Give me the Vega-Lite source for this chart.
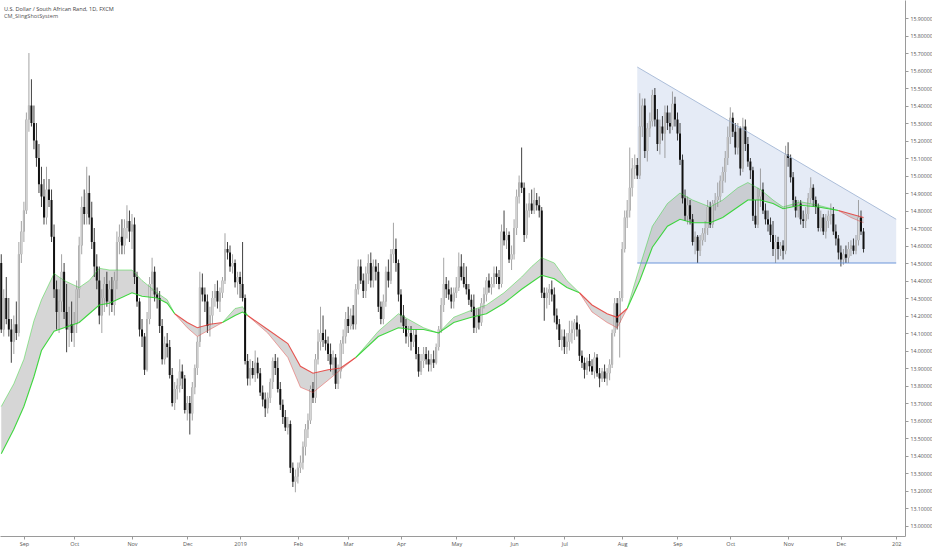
{
"$schema":"https://vega.github.io/schema/vega-lite/v6.json",
"width":905,"height":536,
"autosize":{"type":"none"},
"padding":{"left":0,"top":0,"right":27,"bottom":14},
"background":"white",
"title":{"text":"U.S. Dollar / South African Rand, 1D, FXCM","subtitle":"CM_SlingShotSystem","anchor":"start","frame":"group","orient":"top","offset":-20,"dx":4,"fontSize":5.6,"subtitleFontSize":5.6,"fontWeight":"normal","color":"#444444","subtitleColor":"#555555","subtitlePadding":2,"font":"Open Sans","subtitleFont":"Open Sans"},
"config":{"view":{"stroke":null},"font":"Open Sans","axis":{"labelOverlap":false,"labelFlush":false}},
"resolve":{"axis":{"y":"independent"}},
"datasets":{
"bars":[
{"d":"2018-08-21","o":14.5,"h":14.55,"l":14.1,"c":14.12},
{"d":"2018-08-22","o":14.12,"h":14.35,"l":14.08,"c":14.3},
{"d":"2018-08-23","o":14.3,"h":14.42,"l":14.15,"c":14.18},
{"d":"2018-08-24","o":14.18,"h":14.3,"l":14.08,"c":14.12},
{"d":"2018-08-27","o":14.12,"h":14.18,"l":13.93,"c":14.05},
{"d":"2018-08-28","o":14.05,"h":14.2,"l":13.98,"c":14.15},
{"d":"2018-08-29","o":14.15,"h":14.28,"l":14.06,"c":14.1},
{"d":"2018-08-30","o":14.1,"h":14.62,"l":14.08,"c":14.55},
{"d":"2018-08-31","o":14.55,"h":14.74,"l":14.5,"c":14.68},
{"d":"2018-09-03","o":14.68,"h":14.85,"l":14.62,"c":14.8},
{"d":"2018-09-04","o":14.8,"h":15.36,"l":14.78,"c":15.32},
{"d":"2018-09-05","o":15.32,"h":15.7,"l":15.25,"c":15.4},
{"d":"2018-09-06","o":15.4,"h":15.55,"l":15.28,"c":15.3},
{"d":"2018-09-07","o":15.3,"h":15.4,"l":15.15,"c":15.2},
{"d":"2018-09-10","o":15.2,"h":15.3,"l":15.05,"c":15.1},
{"d":"2018-09-11","o":15.1,"h":15.18,"l":14.9,"c":14.95},
{"d":"2018-09-12","o":14.95,"h":15.05,"l":14.82,"c":14.88},
{"d":"2018-09-13","o":14.88,"h":14.98,"l":14.72,"c":14.76},
{"d":"2018-09-14","o":14.76,"h":15.05,"l":14.72,"c":14.92},
{"d":"2018-09-17","o":14.92,"h":14.98,"l":14.82,"c":14.86},
{"d":"2018-09-18","o":14.86,"h":14.92,"l":14.62,"c":14.65},
{"d":"2018-09-19","o":14.65,"h":14.72,"l":14.3,"c":14.35},
{"d":"2018-09-20","o":14.35,"h":14.4,"l":14.12,"c":14.22},
{"d":"2018-09-21","o":14.22,"h":14.35,"l":14.1,"c":14.28},
{"d":"2018-09-24","o":14.28,"h":14.55,"l":14.22,"c":14.45},
{"d":"2018-09-25","o":14.45,"h":14.5,"l":14.18,"c":14.22},
{"d":"2018-09-26","o":14.22,"h":14.38,"l":13.99,"c":14.12},
{"d":"2018-09-27","o":14.12,"h":14.25,"l":14.02,"c":14.15},
{"d":"2018-09-28","o":14.15,"h":14.28,"l":14.05,"c":14.1},
{"d":"2018-10-01","o":14.1,"h":14.22,"l":14.02,"c":14.15},
{"d":"2018-10-02","o":14.15,"h":14.4,"l":14.1,"c":14.35},
{"d":"2018-10-03","o":14.35,"h":14.65,"l":14.3,"c":14.6},
{"d":"2018-10-04","o":14.6,"h":14.88,"l":14.55,"c":14.82},
{"d":"2018-10-05","o":14.82,"h":14.92,"l":14.72,"c":14.78},
{"d":"2018-10-08","o":14.78,"h":15.05,"l":14.72,"c":14.9},
{"d":"2018-10-09","o":14.9,"h":15.0,"l":14.72,"c":14.76},
{"d":"2018-10-10","o":14.76,"h":14.85,"l":14.58,"c":14.62},
{"d":"2018-10-11","o":14.62,"h":14.7,"l":14.42,"c":14.48},
{"d":"2018-10-12","o":14.48,"h":14.55,"l":14.35,"c":14.4},
{"d":"2018-10-15","o":14.4,"h":14.48,"l":14.15,"c":14.2},
{"d":"2018-10-16","o":14.2,"h":14.35,"l":14.1,"c":14.3},
{"d":"2018-10-17","o":14.3,"h":14.42,"l":14.22,"c":14.38},
{"d":"2018-10-18","o":14.38,"h":14.45,"l":14.25,"c":14.28},
{"d":"2018-10-19","o":14.28,"h":14.4,"l":14.2,"c":14.35},
{"d":"2018-10-22","o":14.35,"h":14.42,"l":14.22,"c":14.26},
{"d":"2018-10-23","o":14.26,"h":14.45,"l":14.2,"c":14.4},
{"d":"2018-10-24","o":14.4,"h":14.68,"l":14.35,"c":14.62},
{"d":"2018-10-25","o":14.62,"h":14.72,"l":14.55,"c":14.65},
{"d":"2018-10-26","o":14.65,"h":14.75,"l":14.55,"c":14.6},
{"d":"2018-10-29","o":14.6,"h":14.75,"l":14.55,"c":14.7},
{"d":"2018-10-30","o":14.7,"h":14.83,"l":14.64,"c":14.74},
{"d":"2018-10-31","o":14.74,"h":14.8,"l":14.62,"c":14.68},
{"d":"2018-11-01","o":14.68,"h":14.78,"l":14.58,"c":14.72},
{"d":"2018-11-02","o":14.72,"h":14.76,"l":14.38,"c":14.42},
{"d":"2018-11-05","o":14.42,"h":14.45,"l":14.25,"c":14.28},
{"d":"2018-11-06","o":14.28,"h":14.3,"l":14.08,"c":14.12},
{"d":"2018-11-07","o":14.12,"h":14.18,"l":14.02,"c":14.08},
{"d":"2018-11-08","o":14.08,"h":14.1,"l":13.86,"c":13.89},
{"d":"2018-11-09","o":13.89,"h":14.22,"l":13.88,"c":14.18},
{"d":"2018-11-12","o":14.18,"h":14.42,"l":14.15,"c":14.38},
{"d":"2018-11-13","o":14.38,"h":14.53,"l":14.34,"c":14.45},
{"d":"2018-11-14","o":14.45,"h":14.48,"l":14.28,"c":14.32},
{"d":"2018-11-15","o":14.32,"h":14.36,"l":14.24,"c":14.3},
{"d":"2018-11-16","o":14.3,"h":14.34,"l":14.1,"c":14.14},
{"d":"2018-11-19","o":14.14,"h":14.18,"l":13.92,"c":13.95},
{"d":"2018-11-20","o":13.95,"h":14.08,"l":13.92,"c":14.04},
{"d":"2018-11-21","o":14.04,"h":14.1,"l":13.96,"c":14.02},
{"d":"2018-11-22","o":14.02,"h":14.06,"l":13.84,"c":13.86},
{"d":"2018-11-23","o":13.86,"h":13.9,"l":13.68,"c":13.7},
{"d":"2018-11-26","o":13.7,"h":13.82,"l":13.66,"c":13.78},
{"d":"2018-11-27","o":13.78,"h":13.84,"l":13.72,"c":13.8},
{"d":"2018-11-28","o":13.8,"h":13.95,"l":13.76,"c":13.88},
{"d":"2018-11-29","o":13.88,"h":13.92,"l":13.78,"c":13.84},
{"d":"2018-11-30","o":13.84,"h":13.86,"l":13.64,"c":13.66},
{"d":"2018-12-03","o":13.66,"h":13.74,"l":13.6,"c":13.7},
{"d":"2018-12-04","o":13.7,"h":13.74,"l":13.52,"c":13.64},
{"d":"2018-12-05","o":13.64,"h":13.82,"l":13.6,"c":13.79},
{"d":"2018-12-06","o":13.79,"h":13.92,"l":13.75,"c":13.9},
{"d":"2018-12-07","o":13.9,"h":14.08,"l":13.86,"c":14.05},
{"d":"2018-12-10","o":14.05,"h":14.45,"l":14.02,"c":14.36},
{"d":"2018-12-11","o":14.36,"h":14.44,"l":14.28,"c":14.32},
{"d":"2018-12-12","o":14.32,"h":14.36,"l":14.22,"c":14.28},
{"d":"2018-12-13","o":14.28,"h":14.32,"l":14.1,"c":14.14},
{"d":"2018-12-14","o":14.14,"h":14.25,"l":14.08,"c":14.2},
{"d":"2018-12-17","o":14.2,"h":14.34,"l":14.15,"c":14.3},
{"d":"2018-12-18","o":14.3,"h":14.38,"l":14.25,"c":14.34},
{"d":"2018-12-19","o":14.34,"h":14.4,"l":14.24,"c":14.28},
{"d":"2018-12-20","o":14.28,"h":14.36,"l":14.22,"c":14.33},
{"d":"2018-12-21","o":14.33,"h":14.42,"l":14.3,"c":14.4},
{"d":"2018-12-24","o":14.4,"h":14.67,"l":14.38,"c":14.58},
{"d":"2018-12-25","o":14.58,"h":14.62,"l":14.52,"c":14.56},
{"d":"2018-12-26","o":14.56,"h":14.6,"l":14.45,"c":14.48},
{"d":"2018-12-27","o":14.48,"h":14.55,"l":14.44,"c":14.5},
{"d":"2018-12-28","o":14.5,"h":14.52,"l":14.36,"c":14.39},
{"d":"2018-12-31","o":14.39,"h":14.45,"l":14.32,"c":14.42},
{"d":"2019-01-01","o":14.42,"h":14.45,"l":14.3,"c":14.38},
{"d":"2019-01-02","o":14.38,"h":14.62,"l":14.28,"c":14.3},
{"d":"2019-01-03","o":14.3,"h":14.32,"l":13.92,"c":13.94},
{"d":"2019-01-04","o":13.94,"h":13.98,"l":13.8,"c":13.84},
{"d":"2019-01-07","o":13.84,"h":13.95,"l":13.8,"c":13.9},
{"d":"2019-01-08","o":13.9,"h":13.94,"l":13.84,"c":13.86},
{"d":"2019-01-09","o":13.86,"h":14.0,"l":13.82,"c":13.93},
{"d":"2019-01-10","o":13.93,"h":13.96,"l":13.84,"c":13.87},
{"d":"2019-01-11","o":13.87,"h":13.9,"l":13.74,"c":13.76},
{"d":"2019-01-14","o":13.76,"h":13.8,"l":13.68,"c":13.72},
{"d":"2019-01-15","o":13.72,"h":13.76,"l":13.62,"c":13.67},
{"d":"2019-01-16","o":13.67,"h":13.76,"l":13.64,"c":13.73},
{"d":"2019-01-17","o":13.73,"h":13.84,"l":13.7,"c":13.82},
{"d":"2019-01-18","o":13.82,"h":13.96,"l":13.78,"c":13.94},
{"d":"2019-01-21","o":13.94,"h":13.98,"l":13.86,"c":13.9},
{"d":"2019-01-22","o":13.9,"h":13.96,"l":13.76,"c":13.78},
{"d":"2019-01-23","o":13.78,"h":13.82,"l":13.66,"c":13.69},
{"d":"2019-01-24","o":13.69,"h":13.72,"l":13.58,"c":13.62},
{"d":"2019-01-25","o":13.62,"h":13.66,"l":13.54,"c":13.56},
{"d":"2019-01-28","o":13.56,"h":13.62,"l":13.52,"c":13.58},
{"d":"2019-01-29","o":13.58,"h":13.6,"l":13.3,"c":13.33},
{"d":"2019-01-30","o":13.33,"h":13.36,"l":13.22,"c":13.25},
{"d":"2019-01-31","o":13.25,"h":13.32,"l":13.19,"c":13.28},
{"d":"2019-02-01","o":13.28,"h":13.36,"l":13.24,"c":13.33},
{"d":"2019-02-04","o":13.33,"h":13.4,"l":13.3,"c":13.36},
{"d":"2019-02-05","o":13.36,"h":13.48,"l":13.32,"c":13.45},
{"d":"2019-02-06","o":13.45,"h":13.58,"l":13.4,"c":13.55},
{"d":"2019-02-07","o":13.55,"h":13.64,"l":13.5,"c":13.6},
{"d":"2019-02-08","o":13.6,"h":13.8,"l":13.58,"c":13.78},
{"d":"2019-02-11","o":13.78,"h":13.82,"l":13.7,"c":13.73},
{"d":"2019-02-12","o":13.73,"h":13.98,"l":13.7,"c":13.95},
{"d":"2019-02-13","o":13.95,"h":14.12,"l":13.92,"c":14.05},
{"d":"2019-02-14","o":14.05,"h":14.25,"l":14.0,"c":14.1},
{"d":"2019-02-15","o":14.1,"h":14.2,"l":14.02,"c":14.06},
{"d":"2019-02-18","o":14.06,"h":14.12,"l":14.0,"c":14.04},
{"d":"2019-02-19","o":14.04,"h":14.08,"l":13.94,"c":13.98},
{"d":"2019-02-20","o":13.98,"h":14.04,"l":13.88,"c":13.92},
{"d":"2019-02-21","o":13.92,"h":14.0,"l":13.86,"c":13.96},
{"d":"2019-02-22","o":13.96,"h":13.98,"l":13.78,"c":13.81},
{"d":"2019-02-25","o":13.81,"h":13.92,"l":13.78,"c":13.88},
{"d":"2019-02-26","o":13.88,"h":14.06,"l":13.84,"c":14.04},
{"d":"2019-02-27","o":14.04,"h":14.12,"l":13.98,"c":14.08},
{"d":"2019-02-28","o":14.08,"h":14.22,"l":14.04,"c":14.18},
{"d":"2019-03-01","o":14.18,"h":14.25,"l":14.1,"c":14.14},
{"d":"2019-03-04","o":14.14,"h":14.24,"l":14.12,"c":14.2},
{"d":"2019-03-05","o":14.2,"h":14.26,"l":14.12,"c":14.15},
{"d":"2019-03-06","o":14.15,"h":14.38,"l":14.12,"c":14.35},
{"d":"2019-03-07","o":14.35,"h":14.52,"l":14.32,"c":14.48},
{"d":"2019-03-08","o":14.48,"h":14.52,"l":14.38,"c":14.4},
{"d":"2019-03-11","o":14.4,"h":14.44,"l":14.3,"c":14.34},
{"d":"2019-03-12","o":14.34,"h":14.48,"l":14.3,"c":14.44},
{"d":"2019-03-13","o":14.44,"h":14.55,"l":14.38,"c":14.5},
{"d":"2019-03-14","o":14.5,"h":14.56,"l":14.36,"c":14.4},
{"d":"2019-03-15","o":14.4,"h":14.52,"l":14.36,"c":14.48},
{"d":"2019-03-18","o":14.48,"h":14.52,"l":14.4,"c":14.45},
{"d":"2019-03-19","o":14.45,"h":14.5,"l":14.22,"c":14.25},
{"d":"2019-03-20","o":14.25,"h":14.28,"l":14.15,"c":14.18},
{"d":"2019-03-21","o":14.18,"h":14.32,"l":14.15,"c":14.28},
{"d":"2019-03-22","o":14.28,"h":14.48,"l":14.25,"c":14.45},
{"d":"2019-03-25","o":14.45,"h":14.52,"l":14.36,"c":14.4},
{"d":"2019-03-26","o":14.4,"h":14.58,"l":14.38,"c":14.55},
{"d":"2019-03-27","o":14.55,"h":14.73,"l":14.5,"c":14.58},
{"d":"2019-03-28","o":14.58,"h":14.64,"l":14.45,"c":14.5},
{"d":"2019-03-29","o":14.5,"h":14.52,"l":14.28,"c":14.32},
{"d":"2019-04-01","o":14.32,"h":14.35,"l":14.16,"c":14.2},
{"d":"2019-04-02","o":14.2,"h":14.26,"l":14.1,"c":14.14},
{"d":"2019-04-03","o":14.14,"h":14.18,"l":14.04,"c":14.08},
{"d":"2019-04-04","o":14.08,"h":14.14,"l":14.02,"c":14.1},
{"d":"2019-04-05","o":14.1,"h":14.14,"l":14.0,"c":14.05},
{"d":"2019-04-08","o":14.05,"h":14.12,"l":14.02,"c":14.09},
{"d":"2019-04-09","o":14.09,"h":14.12,"l":13.95,"c":13.98},
{"d":"2019-04-10","o":13.98,"h":14.02,"l":13.85,"c":13.88},
{"d":"2019-04-11","o":13.88,"h":13.98,"l":13.86,"c":13.94},
{"d":"2019-04-12","o":13.94,"h":14.02,"l":13.9,"c":13.98},
{"d":"2019-04-15","o":13.98,"h":14.02,"l":13.92,"c":13.95},
{"d":"2019-04-16","o":13.95,"h":14.0,"l":13.88,"c":13.92},
{"d":"2019-04-17","o":13.92,"h":13.98,"l":13.88,"c":13.95},
{"d":"2019-04-18","o":13.95,"h":14.0,"l":13.9,"c":13.93},
{"d":"2019-04-19","o":13.93,"h":14.04,"l":13.92,"c":14.02},
{"d":"2019-04-22","o":14.02,"h":14.14,"l":14.0,"c":14.12},
{"d":"2019-04-23","o":14.12,"h":14.3,"l":14.1,"c":14.26},
{"d":"2019-04-24","o":14.26,"h":14.53,"l":14.22,"c":14.38},
{"d":"2019-04-25","o":14.38,"h":14.42,"l":14.3,"c":14.35},
{"d":"2019-04-26","o":14.35,"h":14.4,"l":14.29,"c":14.32},
{"d":"2019-04-29","o":14.32,"h":14.36,"l":14.24,"c":14.28},
{"d":"2019-04-30","o":14.28,"h":14.36,"l":14.24,"c":14.33},
{"d":"2019-05-01","o":14.33,"h":14.42,"l":14.3,"c":14.36},
{"d":"2019-05-02","o":14.36,"h":14.56,"l":14.34,"c":14.48},
{"d":"2019-05-03","o":14.48,"h":14.55,"l":14.4,"c":14.42},
{"d":"2019-05-06","o":14.42,"h":14.5,"l":14.36,"c":14.38},
{"d":"2019-05-07","o":14.38,"h":14.48,"l":14.32,"c":14.35},
{"d":"2019-05-08","o":14.35,"h":14.38,"l":14.26,"c":14.29},
{"d":"2019-05-09","o":14.29,"h":14.32,"l":14.22,"c":14.25},
{"d":"2019-05-10","o":14.25,"h":14.32,"l":14.1,"c":14.13},
{"d":"2019-05-13","o":14.13,"h":14.24,"l":14.1,"c":14.2},
{"d":"2019-05-14","o":14.2,"h":14.24,"l":14.12,"c":14.16},
{"d":"2019-05-15","o":14.16,"h":14.3,"l":14.14,"c":14.27},
{"d":"2019-05-16","o":14.27,"h":14.36,"l":14.24,"c":14.32},
{"d":"2019-05-17","o":14.32,"h":14.42,"l":14.28,"c":14.4},
{"d":"2019-05-20","o":14.4,"h":14.44,"l":14.33,"c":14.36},
{"d":"2019-05-21","o":14.36,"h":14.42,"l":14.32,"c":14.38},
{"d":"2019-05-22","o":14.38,"h":14.48,"l":14.36,"c":14.44},
{"d":"2019-05-23","o":14.44,"h":14.48,"l":14.38,"c":14.42},
{"d":"2019-05-24","o":14.42,"h":14.46,"l":14.35,"c":14.38},
{"d":"2019-05-27","o":14.38,"h":14.72,"l":14.36,"c":14.68},
{"d":"2019-05-28","o":14.68,"h":14.8,"l":14.6,"c":14.63},
{"d":"2019-05-29","o":14.63,"h":14.7,"l":14.58,"c":14.66},
{"d":"2019-05-30","o":14.66,"h":14.68,"l":14.5,"c":14.52},
{"d":"2019-05-31","o":14.52,"h":14.6,"l":14.46,"c":14.55},
{"d":"2019-06-03","o":14.55,"h":14.75,"l":14.52,"c":14.7},
{"d":"2019-06-04","o":14.7,"h":14.92,"l":14.66,"c":14.88},
{"d":"2019-06-05","o":14.88,"h":15.0,"l":14.84,"c":14.96},
{"d":"2019-06-06","o":14.96,"h":15.16,"l":14.9,"c":14.93},
{"d":"2019-06-07","o":14.93,"h":14.96,"l":14.62,"c":14.66},
{"d":"2019-06-10","o":14.66,"h":14.84,"l":14.64,"c":14.8},
{"d":"2019-06-11","o":14.8,"h":14.9,"l":14.76,"c":14.84},
{"d":"2019-06-12","o":14.84,"h":14.92,"l":14.78,"c":14.8},
{"d":"2019-06-13","o":14.8,"h":14.93,"l":14.78,"c":14.86},
{"d":"2019-06-14","o":14.86,"h":14.9,"l":14.8,"c":14.83},
{"d":"2019-06-17","o":14.83,"h":14.88,"l":14.76,"c":14.8},
{"d":"2019-06-18","o":14.8,"h":14.82,"l":14.3,"c":14.33},
{"d":"2019-06-19","o":14.33,"h":14.36,"l":14.17,"c":14.3},
{"d":"2019-06-20","o":14.3,"h":14.36,"l":14.24,"c":14.33},
{"d":"2019-06-21","o":14.33,"h":14.38,"l":14.26,"c":14.35},
{"d":"2019-06-24","o":14.35,"h":14.4,"l":14.28,"c":14.32},
{"d":"2019-06-25","o":14.32,"h":14.36,"l":14.16,"c":14.2},
{"d":"2019-06-26","o":14.2,"h":14.24,"l":14.12,"c":14.15},
{"d":"2019-06-27","o":14.15,"h":14.18,"l":14.02,"c":14.06},
{"d":"2019-06-28","o":14.06,"h":14.12,"l":14.0,"c":14.08},
{"d":"2019-07-01","o":14.08,"h":14.12,"l":13.98,"c":14.02},
{"d":"2019-07-02","o":14.02,"h":14.1,"l":13.98,"c":14.05},
{"d":"2019-07-03","o":14.05,"h":14.17,"l":14.0,"c":14.1},
{"d":"2019-07-04","o":14.1,"h":14.17,"l":14.04,"c":14.12},
{"d":"2019-07-05","o":14.12,"h":14.18,"l":14.06,"c":14.16},
{"d":"2019-07-08","o":14.16,"h":14.2,"l":14.08,"c":14.12},
{"d":"2019-07-09","o":14.12,"h":14.15,"l":13.94,"c":13.97},
{"d":"2019-07-10","o":13.97,"h":14.0,"l":13.9,"c":13.93},
{"d":"2019-07-11","o":13.93,"h":13.96,"l":13.84,"c":13.89},
{"d":"2019-07-12","o":13.89,"h":13.96,"l":13.86,"c":13.94},
{"d":"2019-07-15","o":13.94,"h":13.98,"l":13.88,"c":13.91},
{"d":"2019-07-16","o":13.91,"h":13.95,"l":13.86,"c":13.88},
{"d":"2019-07-17","o":13.88,"h":13.99,"l":13.84,"c":13.96},
{"d":"2019-07-18","o":13.96,"h":13.98,"l":13.85,"c":13.87},
{"d":"2019-07-19","o":13.87,"h":13.9,"l":13.79,"c":13.84},
{"d":"2019-07-22","o":13.84,"h":13.9,"l":13.82,"c":13.88},
{"d":"2019-07-23","o":13.88,"h":13.92,"l":13.82,"c":13.84},
{"d":"2019-07-24","o":13.84,"h":13.9,"l":13.8,"c":13.87},
{"d":"2019-07-25","o":13.87,"h":13.95,"l":13.83,"c":13.92},
{"d":"2019-07-26","o":13.92,"h":14.12,"l":13.9,"c":14.1},
{"d":"2019-07-29","o":14.1,"h":14.3,"l":14.08,"c":14.27},
{"d":"2019-07-30","o":14.27,"h":14.3,"l":14.12,"c":14.16},
{"d":"2019-07-31","o":14.16,"h":14.34,"l":13.96,"c":14.3},
{"d":"2019-08-01","o":14.3,"h":14.62,"l":14.28,"c":14.58},
{"d":"2019-08-02","o":14.58,"h":14.8,"l":14.56,"c":14.76},
{"d":"2019-08-05","o":14.76,"h":14.86,"l":14.7,"c":14.8},
{"d":"2019-08-06","o":14.8,"h":15.16,"l":14.76,"c":14.93},
{"d":"2019-08-07","o":14.93,"h":15.1,"l":14.88,"c":15.04},
{"d":"2019-08-08","o":15.04,"h":15.12,"l":14.98,"c":15.06},
{"d":"2019-08-09","o":15.06,"h":15.1,"l":14.98,"c":15.0},
{"d":"2019-08-12","o":15.0,"h":15.47,"l":14.98,"c":15.28},
{"d":"2019-08-13","o":15.28,"h":15.44,"l":15.22,"c":15.4},
{"d":"2019-08-14","o":15.4,"h":15.44,"l":15.1,"c":15.14},
{"d":"2019-08-15","o":15.14,"h":15.3,"l":15.08,"c":15.27},
{"d":"2019-08-16","o":15.27,"h":15.36,"l":15.22,"c":15.31},
{"d":"2019-08-19","o":15.31,"h":15.49,"l":15.28,"c":15.46},
{"d":"2019-08-20","o":15.46,"h":15.5,"l":15.28,"c":15.32},
{"d":"2019-08-21","o":15.32,"h":15.38,"l":15.14,"c":15.18},
{"d":"2019-08-22","o":15.18,"h":15.32,"l":15.12,"c":15.28},
{"d":"2019-08-23","o":15.28,"h":15.34,"l":15.2,"c":15.24},
{"d":"2019-08-26","o":15.24,"h":15.4,"l":15.1,"c":15.36},
{"d":"2019-08-27","o":15.36,"h":15.4,"l":15.26,"c":15.3},
{"d":"2019-08-28","o":15.3,"h":15.36,"l":15.24,"c":15.28},
{"d":"2019-08-29","o":15.28,"h":15.48,"l":15.26,"c":15.41},
{"d":"2019-08-30","o":15.41,"h":15.45,"l":15.28,"c":15.32},
{"d":"2019-09-02","o":15.32,"h":15.36,"l":15.2,"c":15.24},
{"d":"2019-09-03","o":15.24,"h":15.3,"l":15.06,"c":15.09},
{"d":"2019-09-04","o":15.09,"h":15.12,"l":14.84,"c":14.87},
{"d":"2019-09-05","o":14.87,"h":14.92,"l":14.74,"c":14.77},
{"d":"2019-09-06","o":14.77,"h":14.88,"l":14.72,"c":14.83},
{"d":"2019-09-09","o":14.83,"h":14.86,"l":14.72,"c":14.75},
{"d":"2019-09-10","o":14.75,"h":14.78,"l":14.6,"c":14.62},
{"d":"2019-09-11","o":14.62,"h":14.68,"l":14.55,"c":14.65},
{"d":"2019-09-12","o":14.65,"h":14.66,"l":14.5,"c":14.57},
{"d":"2019-09-13","o":14.57,"h":14.66,"l":14.54,"c":14.63},
{"d":"2019-09-16","o":14.63,"h":14.7,"l":14.6,"c":14.67},
{"d":"2019-09-17","o":14.67,"h":14.74,"l":14.62,"c":14.7},
{"d":"2019-09-18","o":14.7,"h":14.86,"l":14.66,"c":14.82},
{"d":"2019-09-19","o":14.82,"h":14.85,"l":14.7,"c":14.72},
{"d":"2019-09-20","o":14.72,"h":14.86,"l":14.7,"c":14.84},
{"d":"2019-09-23","o":14.84,"h":14.9,"l":14.8,"c":14.86},
{"d":"2019-09-24","o":14.86,"h":14.96,"l":14.82,"c":14.88},
{"d":"2019-09-25","o":14.88,"h":15.0,"l":14.85,"c":14.97},
{"d":"2019-09-26","o":14.97,"h":15.05,"l":14.9,"c":15.02},
{"d":"2019-09-27","o":15.02,"h":15.14,"l":14.96,"c":15.1},
{"d":"2019-09-30","o":15.1,"h":15.28,"l":15.06,"c":15.22},
{"d":"2019-10-01","o":15.22,"h":15.39,"l":15.18,"c":15.33},
{"d":"2019-10-02","o":15.33,"h":15.36,"l":15.22,"c":15.25},
{"d":"2019-10-03","o":15.25,"h":15.3,"l":15.12,"c":15.16},
{"d":"2019-10-04","o":15.16,"h":15.3,"l":15.12,"c":15.27},
{"d":"2019-10-07","o":15.27,"h":15.28,"l":15.0,"c":15.04},
{"d":"2019-10-08","o":15.04,"h":15.33,"l":15.02,"c":15.28},
{"d":"2019-10-09","o":15.28,"h":15.32,"l":15.14,"c":15.18},
{"d":"2019-10-10","o":15.18,"h":15.22,"l":15.05,"c":15.08},
{"d":"2019-10-11","o":15.08,"h":15.1,"l":14.98,"c":15.03},
{"d":"2019-10-14","o":15.03,"h":15.05,"l":14.74,"c":14.77},
{"d":"2019-10-15","o":14.77,"h":14.86,"l":14.7,"c":14.72},
{"d":"2019-10-16","o":14.72,"h":14.93,"l":14.7,"c":14.88},
{"d":"2019-10-17","o":14.88,"h":15.04,"l":14.82,"c":14.92},
{"d":"2019-10-18","o":14.92,"h":14.96,"l":14.78,"c":14.8},
{"d":"2019-10-21","o":14.8,"h":14.84,"l":14.72,"c":14.75},
{"d":"2019-10-22","o":14.75,"h":14.8,"l":14.68,"c":14.72},
{"d":"2019-10-23","o":14.72,"h":14.76,"l":14.62,"c":14.66},
{"d":"2019-10-24","o":14.66,"h":14.74,"l":14.54,"c":14.58},
{"d":"2019-10-25","o":14.58,"h":14.66,"l":14.5,"c":14.62},
{"d":"2019-10-28","o":14.62,"h":14.65,"l":14.52,"c":14.58},
{"d":"2019-10-29","o":14.58,"h":14.62,"l":14.54,"c":14.6},
{"d":"2019-10-30","o":14.6,"h":14.63,"l":14.52,"c":14.57},
{"d":"2019-10-31","o":14.57,"h":15.17,"l":14.55,"c":15.12},
{"d":"2019-11-01","o":15.12,"h":15.19,"l":15.05,"c":15.1},
{"d":"2019-11-04","o":15.1,"h":15.12,"l":14.96,"c":14.99},
{"d":"2019-11-05","o":14.99,"h":15.02,"l":14.82,"c":14.86},
{"d":"2019-11-06","o":14.86,"h":14.88,"l":14.76,"c":14.8},
{"d":"2019-11-07","o":14.8,"h":14.86,"l":14.76,"c":14.84},
{"d":"2019-11-08","o":14.84,"h":14.86,"l":14.72,"c":14.75},
{"d":"2019-11-11","o":14.75,"h":14.8,"l":14.7,"c":14.74},
{"d":"2019-11-12","o":14.74,"h":14.82,"l":14.7,"c":14.78},
{"d":"2019-11-13","o":14.78,"h":14.9,"l":14.75,"c":14.87},
{"d":"2019-11-14","o":14.87,"h":14.99,"l":14.84,"c":14.93},
{"d":"2019-11-15","o":14.93,"h":14.95,"l":14.82,"c":14.86},
{"d":"2019-11-18","o":14.86,"h":14.88,"l":14.78,"c":14.82},
{"d":"2019-11-19","o":14.82,"h":14.84,"l":14.68,"c":14.7},
{"d":"2019-11-20","o":14.7,"h":14.8,"l":14.68,"c":14.76},
{"d":"2019-11-21","o":14.76,"h":14.78,"l":14.66,"c":14.68},
{"d":"2019-11-22","o":14.68,"h":14.78,"l":14.64,"c":14.74},
{"d":"2019-11-25","o":14.74,"h":14.8,"l":14.7,"c":14.77},
{"d":"2019-11-26","o":14.77,"h":14.84,"l":14.72,"c":14.78},
{"d":"2019-11-27","o":14.78,"h":14.82,"l":14.66,"c":14.68},
{"d":"2019-11-28","o":14.68,"h":14.72,"l":14.6,"c":14.64},
{"d":"2019-11-29","o":14.64,"h":14.66,"l":14.52,"c":14.56},
{"d":"2019-12-02","o":14.56,"h":14.6,"l":14.48,"c":14.52},
{"d":"2019-12-03","o":14.52,"h":14.58,"l":14.49,"c":14.55},
{"d":"2019-12-04","o":14.55,"h":14.6,"l":14.5,"c":14.53},
{"d":"2019-12-05","o":14.53,"h":14.62,"l":14.5,"c":14.58},
{"d":"2019-12-06","o":14.58,"h":14.63,"l":14.54,"c":14.6},
{"d":"2019-12-09","o":14.6,"h":14.64,"l":14.55,"c":14.57},
{"d":"2019-12-10","o":14.57,"h":14.66,"l":14.55,"c":14.63},
{"d":"2019-12-11","o":14.63,"h":14.86,"l":14.6,"c":14.76},
{"d":"2019-12-12","o":14.76,"h":14.8,"l":14.66,"c":14.68},
{"d":"2019-12-13","o":14.68,"h":14.7,"l":14.56,"c":14.58}
],
"ema":[
{"d":"2018-08-21","f":13.68,"s":13.41,"g":1,"t":"up"},
{"d":"2018-08-28","f":13.81,"s":13.55,"g":1,"t":"up"},
{"d":"2018-09-03","f":13.95,"s":13.68,"g":1,"t":"up"},
{"d":"2018-09-07","f":14.17,"s":13.85,"g":1,"t":"up"},
{"d":"2018-09-12","f":14.29,"s":14.0,"g":1,"t":"up"},
{"d":"2018-09-19","f":14.44,"s":14.11,"g":1,"t":"up"},
{"d":"2018-09-25","f":14.4,"s":14.13,"g":1,"t":"up"},
{"d":"2018-10-03","f":14.36,"s":14.16,"g":1,"t":"up"},
{"d":"2018-10-09","f":14.4,"s":14.21,"g":1,"t":"up"},
{"d":"2018-10-15","f":14.47,"s":14.26,"g":1,"t":"up"},
{"d":"2018-10-19","f":14.46,"s":14.27,"g":1,"t":"up"},
{"d":"2018-11-01","f":14.46,"s":14.33,"g":1,"t":"up"},
{"d":"2018-11-07","f":14.4,"s":14.31,"g":1,"t":"up"},
{"d":"2018-11-15","f":14.33,"s":14.3,"g":1,"t":"up"},
{"d":"2018-11-21","f":14.29,"s":14.27,"g":1,"t":"up"},
{"d":"2018-11-26","f":14.21,"s":14.21,"g":1,"t":"up"},
{"d":"2018-11-26","f":14.21,"s":14.21,"g":2,"t":"dn"},
{"d":"2018-12-03","f":14.13,"s":14.16,"g":2,"t":"dn"},
{"d":"2018-12-07","f":14.08,"s":14.13,"g":2,"t":"dn"},
{"d":"2018-12-14","f":14.12,"s":14.15,"g":2,"t":"dn"},
{"d":"2018-12-21","f":14.16,"s":14.16,"g":2,"t":"dn"},
{"d":"2018-12-21","f":14.16,"s":14.16,"g":3,"t":"up"},
{"d":"2018-12-28","f":14.24,"s":14.2,"g":3,"t":"up"},
{"d":"2019-01-02","f":14.25,"s":14.22,"g":3,"t":"up"},
{"d":"2019-01-04","f":14.2,"s":14.2,"g":3,"t":"up"},
{"d":"2019-01-04","f":14.2,"s":14.2,"g":4,"t":"dn"},
{"d":"2019-01-16","f":14.1,"s":14.12,"g":4,"t":"dn"},
{"d":"2019-01-28","f":13.96,"s":14.04,"g":4,"t":"dn"},
{"d":"2019-02-04","f":13.79,"s":13.91,"g":4,"t":"dn"},
{"d":"2019-02-11","f":13.76,"s":13.87,"g":4,"t":"dn"},
{"d":"2019-02-19","f":13.83,"s":13.89,"g":4,"t":"dn"},
{"d":"2019-02-26","f":13.89,"s":13.9,"g":4,"t":"dn"},
{"d":"2019-03-06","f":13.96,"s":13.96,"g":4,"t":"dn"},
{"d":"2019-03-06","f":13.96,"s":13.96,"g":5,"t":"up"},
{"d":"2019-03-19","f":14.11,"s":14.08,"g":5,"t":"up"},
{"d":"2019-03-29","f":14.21,"s":14.13,"g":5,"t":"up"},
{"d":"2019-04-05","f":14.17,"s":14.12,"g":5,"t":"up"},
{"d":"2019-04-12","f":14.13,"s":14.12,"g":5,"t":"up"},
{"d":"2019-04-22","f":14.1,"s":14.1,"g":5,"t":"up"},
{"d":"2019-04-30","f":14.19,"s":14.16,"g":5,"t":"up"},
{"d":"2019-05-09","f":14.23,"s":14.19,"g":5,"t":"up"},
{"d":"2019-05-17","f":14.26,"s":14.21,"g":5,"t":"up"},
{"d":"2019-05-28","f":14.33,"s":14.27,"g":5,"t":"up"},
{"d":"2019-06-06","f":14.42,"s":14.35,"g":5,"t":"up"},
{"d":"2019-06-12","f":14.48,"s":14.39,"g":5,"t":"up"},
{"d":"2019-06-18","f":14.53,"s":14.43,"g":5,"t":"up"},
{"d":"2019-06-25","f":14.5,"s":14.41,"g":5,"t":"up"},
{"d":"2019-07-02","f":14.4,"s":14.36,"g":5,"t":"up"},
{"d":"2019-07-09","f":14.33,"s":14.33,"g":5,"t":"up"},
{"d":"2019-07-09","f":14.33,"s":14.33,"g":6,"t":"dn"},
{"d":"2019-07-16","f":14.22,"s":14.26,"g":6,"t":"dn"},
{"d":"2019-07-24","f":14.16,"s":14.21,"g":6,"t":"dn"},
{"d":"2019-07-30","f":14.13,"s":14.19,"g":6,"t":"dn"},
{"d":"2019-08-05","f":14.24,"s":14.24,"g":6,"t":"dn"},
{"d":"2019-08-05","f":14.24,"s":14.24,"g":7,"t":"up"},
{"d":"2019-08-12","f":14.48,"s":14.4,"g":7,"t":"up"},
{"d":"2019-08-19","f":14.71,"s":14.59,"g":7,"t":"up"},
{"d":"2019-08-27","f":14.84,"s":14.71,"g":7,"t":"up"},
{"d":"2019-09-03","f":14.9,"s":14.75,"g":7,"t":"up"},
{"d":"2019-09-10","f":14.86,"s":14.73,"g":7,"t":"up"},
{"d":"2019-09-19","f":14.82,"s":14.73,"g":7,"t":"up"},
{"d":"2019-09-26","f":14.86,"s":14.76,"g":7,"t":"up"},
{"d":"2019-10-04","f":14.93,"s":14.82,"g":7,"t":"up"},
{"d":"2019-10-10","f":14.96,"s":14.86,"g":7,"t":"up"},
{"d":"2019-10-17","f":14.92,"s":14.86,"g":7,"t":"up"},
{"d":"2019-10-24","f":14.86,"s":14.84,"g":7,"t":"up"},
{"d":"2019-10-30","f":14.82,"s":14.81,"g":7,"t":"up"},
{"d":"2019-11-08","f":14.85,"s":14.83,"g":7,"t":"up"},
{"d":"2019-11-19","f":14.83,"s":14.82,"g":7,"t":"up"},
{"d":"2019-11-29","f":14.8,"s":14.8,"g":7,"t":"up"},
{"d":"2019-11-29","f":14.8,"s":14.8,"g":8,"t":"dn"},
{"d":"2019-12-06","f":14.76,"s":14.78,"g":8,"t":"dn"},
{"d":"2019-12-13","f":14.73,"s":14.76,"g":8,"t":"dn"}
],
"tri":[
{"d":"2019-08-09","top":15.62,"bot":14.5},
{"d":"2020-01-01","top":14.75,"bot":14.5}
],
"future":[
{"d":"2019-12-16"},{"d":"2019-12-17"},{"d":"2019-12-18"},{"d":"2019-12-19"},{"d":"2019-12-20"},
{"d":"2019-12-23"},{"d":"2019-12-24"},{"d":"2019-12-25"},{"d":"2019-12-26"},{"d":"2019-12-27"},
{"d":"2019-12-30"},{"d":"2019-12-31"},{"d":"2020-01-01"},{"d":"2020-01-02"},{"d":"2020-01-03"},{"d":"2020-01-06"}
]
},
"encoding":{
"x":{"field":"d","type":"ordinal","title":null,
"scale":{"type":"point","padding":0.5},
"axis":{"orient":"bottom","values":["2018-09-03","2018-10-01","2018-11-01","2018-12-03","2019-01-01","2019-02-01","2019-03-01","2019-04-01","2019-05-01","2019-06-03","2019-07-01","2019-08-01","2019-09-02","2019-10-01","2019-11-01","2019-12-02","2020-01-01"],
"labelExpr":"datum.value == '2020-01-01' ? '202' : (substring(datum.value,5,7) == '01' ? substring(datum.value,0,4) : ['Jan','Feb','Mar','Apr','May','Jun','Jul','Aug','Sep','Oct','Nov','Dec'][toNumber(substring(datum.value,5,7))-1])",
"labelAngle":0,"labelFontSize":5.5,"labelColor":"#555555","labelPadding":2,"tickSize":3,"tickColor":"#9a9a9a","domainColor":"#9a9a9a","grid":false,"labelOverlap":false}}
},
"layer":[
{"data":{"name":"tri"},"mark":{"type":"area","color":"#e5ebf6","opacity":1},
 "encoding":{"y":{"field":"top","type":"quantitative","title":null,"scale":{"domain":[12.94,16.003],"nice":false,"zero":false},
  "axis":{"orient":"right","values":[13.0,13.1,13.2,13.3,13.4,13.5,13.6,13.7,13.8,13.9,14.0,14.1,14.2,14.3,14.4,14.5,14.6,14.7,14.8,14.9,15.0,15.1,15.2,15.3,15.4,15.5,15.6,15.7,15.8,15.9],"format":".5f","labelFontSize":5.2,"labelColor":"#555555","labelPadding":2,"tickSize":3,"tickColor":"#9a9a9a","domainColor":"#9a9a9a","grid":false,"labelOverlap":false}},
  "y2":{"field":"bot"}}},
{"data":{"name":"ema"},"mark":{"type":"area","color":"#b5b5b5","opacity":0.55},
 "encoding":{"y":{"field":"f","type":"quantitative","title":null,"axis":null},"y2":{"field":"s"}}},
{"data":{"name":"bars"},"mark":{"type":"rule","strokeWidth":0.8},
 "encoding":{"y":{"field":"l","type":"quantitative","title":null,"axis":null},"y2":{"field":"h"},
  "color":{"condition":{"test":"datum.c >= datum.o","value":"#8d8d8d"},"value":"#111111"}}},
{"data":{"name":"bars"},"mark":{"type":"rule","strokeWidth":2},
 "encoding":{"y":{"field":"o","type":"quantitative","title":null,"axis":null},"y2":{"field":"c"},
  "color":{"condition":{"test":"datum.c >= datum.o","value":"#8d8d8d"},"value":"#111111"}}},
{"data":{"name":"bars"},"transform":[{"filter":"datum.c > datum.o"}],"mark":{"type":"rule","strokeWidth":0.8,"color":"#eeeeee"},
 "encoding":{"y":{"field":"o","type":"quantitative","title":null,"axis":null},"y2":{"field":"c"}}},
{"data":{"name":"ema"},"mark":{"type":"line","strokeWidth":0.8,"opacity":0.55},
 "encoding":{"y":{"field":"f","type":"quantitative","title":null,"axis":null},"detail":{"field":"g"},
  "color":{"field":"t","type":"nominal","scale":{"domain":["up","dn"],"range":["#22d422","#e53935"]},"legend":null}}},
{"data":{"name":"ema"},"mark":{"type":"line","strokeWidth":1.1,"opacity":0.85},
 "encoding":{"y":{"field":"s","type":"quantitative","title":null,"axis":null},"detail":{"field":"g"},
  "color":{"field":"t","type":"nominal","scale":{"domain":["up","dn"],"range":["#22d422","#e53935"]},"legend":null}}},
{"data":{"name":"tri"},"mark":{"type":"line","color":"#9bb0d0","strokeWidth":0.8},
 "encoding":{"y":{"field":"top","type":"quantitative","title":null,"axis":null}}},
{"data":{"name":"tri"},"mark":{"type":"line","color":"#5b8bd6","strokeWidth":0.9},
 "encoding":{"y":{"field":"bot","type":"quantitative","title":null,"axis":null}}},
{"data":{"name":"future"},"mark":{"type":"point","opacity":0},"encoding":{}}
]
}
